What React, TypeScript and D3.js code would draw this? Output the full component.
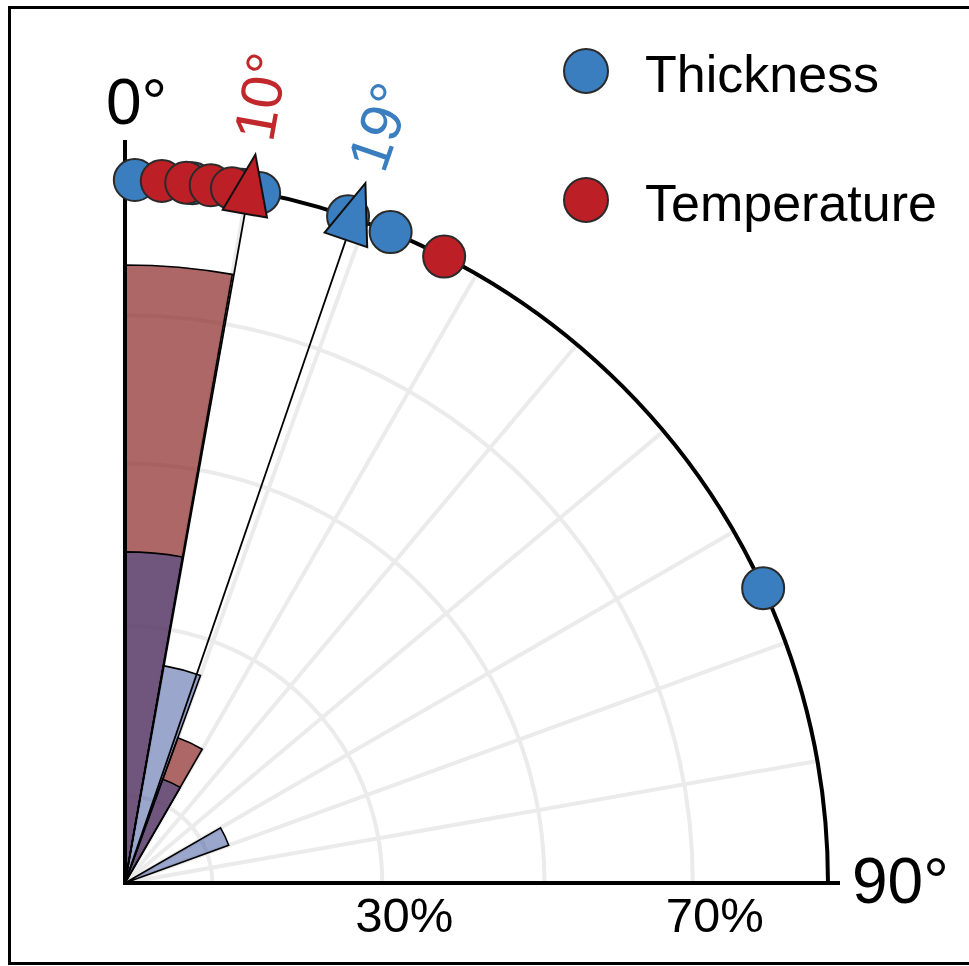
import React from "react";
import * as d3 from "d3";

// ---- data ----
const thicknessAngles = [0.8, 5.5, 9.5, 11, 18.5, 22.2, 65.2];
const temperatureAngles = [3, 5, 7, 8.75, 27];
const seriesNames = ["Thickness", "Temperature"];
const seriesColors = ["#3a7ebf", "#bd1f26"];
const gridArcValues = [11.3, 33.3, 54.3, 73.5];
const gridArcLabels = ["", "30%", "", "70%"];
const angleGridValues = [10, 20, 30, 40, 50, 60, 70, 80];
const angleEndLabels = ["0°", "90°"];
const binEdges = [0, 10, 20, 30, 40, 50, 60, 70, 80, 90];

// ---- layout ----
const W = 969;
const H = 966;
const cx = 125;
const cy = 883;
const R = 703;
const FONT = "'Liberation Sans', Arial, Helvetica, sans-serif";

const rScale = d3.scaleLinear().domain([0, 91]).range([0, R]);
const rad = (deg: number) => (deg * Math.PI) / 180;
const pol = (deg: number, r: number): [number, number] => [
  cx + r * Math.sin(rad(deg)),
  cy - r * Math.cos(rad(deg)),
];

function histogram(values: number[]) {
  const bins = d3
    .bin<number, number>()
    .domain([0, 90])
    .thresholds(binEdges.slice(1, -1))(values);
  return bins
    .filter((b) => b.length > 0)
    .map((b) => ({ x0: b.x0 as number, x1: b.x1 as number, pct: (b.length / values.length) * 100 }));
}

const arcGen = d3.arc<any>();

export default function App() {
  const thickBins = histogram(thicknessAngles);
  const tempBins = histogram(temperatureAngles);
  const thickMean = d3.mean(thicknessAngles) as number;
  const tempMean = d3.mean(temperatureAngles) as number;

  const wedge = (b: { x0: number; x1: number; pct: number }) =>
    arcGen({
      innerRadius: 0,
      outerRadius: rScale(b.pct),
      startAngle: rad(b.x0),
      endAngle: rad(b.x1),
    }) as string;

  const outerArc = arcGen({
    innerRadius: R,
    outerRadius: R,
    startAngle: 0,
    endAngle: Math.PI / 2,
  }) as string;

  const means = [
    { name: "Thickness", angle: thickMean, color: seriesColors[0] },
    { name: "Temperature", angle: tempMean, color: "#c0282c" },
  ];

  const tri = "M0,-30 L22.5,30 L-22.5,30 Z";

  return (
    <svg
      width={W}
      height={H}
      style={{ position: "absolute", left: 0, top: 0, background: "#fff" }}
      fontFamily={FONT}
    >
      <rect x={0} y={0} width={W} height={H} fill="#fff" />
      {/* grid */}
      <g stroke="#ebebeb" strokeWidth={4} fill="none">
        {gridArcValues.map((v, i) => (
          <path
            key={"ga" + i}
            transform={`translate(${cx},${cy})`}
            d={
              arcGen({
                innerRadius: rScale(v),
                outerRadius: rScale(v),
                startAngle: 0,
                endAngle: Math.PI / 2,
              }) as string
            }
          />
        ))}
        {angleGridValues.map((a) => {
          const [x, y] = pol(a, R);
          return <line key={"gl" + a} x1={cx} y1={cy} x2={x} y2={y} />;
        })}
      </g>

      {/* rose wedges */}
      <g transform={`translate(${cx},${cy})`}>
        {tempBins.map((b, i) => (
          <path
            key={"tw" + i}
            d={wedge(b)}
            fill="#8a2627"
            fillOpacity={0.7}
            stroke="#000"
            strokeWidth={1.6}
          />
        ))}
        {thickBins.map((b, i) => (
          <path
            key={"kw" + i}
            d={wedge(b)}
            fill="#2d4695"
            fillOpacity={0.48}
            stroke="#000"
            strokeWidth={1.6}
          />
        ))}
      </g>

      {/* axes */}
      <path transform={`translate(${cx},${cy})`} d={outerArc} fill="none" stroke="#000" strokeWidth={4} />
      <line x1={cx} y1={cy} x2={cx} y2={140} stroke="#000" strokeWidth={4} />
      <line x1={cx - 2} y1={cy} x2={840} y2={cy} stroke="#000" strokeWidth={4} />

      {/* mean direction lines */}
      {means.map((m) => {
        const [x, y] = pol(m.angle, R - 23);
        return <line key={"ml" + m.name} x1={cx} y1={cy} x2={x} y2={y} stroke="#000" strokeWidth={1.8} />;
      })}

      {/* points */}
      {thicknessAngles.map((a, i) => {
        const [x, y] = pol(a, R);
        return <circle key={"kp" + i} cx={x} cy={y} r={21} fill={seriesColors[0]} stroke="#2a2a2a" strokeWidth={2} />;
      })}
      {temperatureAngles.map((a, i) => {
        const [x, y] = pol(a, R);
        return <circle key={"tp" + i} cx={x} cy={y} r={21} fill={seriesColors[1]} stroke="#2a2a2a" strokeWidth={2} />;
      })}

      {/* mean triangles */}
      {[means[1], means[0]].map((m) => {
        const [x, y] = pol(m.angle, R + 7);
        return (
          <path
            key={"tr" + m.name}
            d={tri}
            transform={`translate(${x},${y}) rotate(${m.angle})`}
            fill={m.name === "Thickness" ? seriesColors[0] : seriesColors[1]}
            stroke="#111"
            strokeWidth={2}
          />
        );
      })}

      {/* mean labels */}
      {means.map((m) => {
        const [x, y] = pol(m.angle, 798);
        return (
          <text
            key={"mt" + m.name}
            x={0}
            y={0}
            dy="0.26em"
            transform={`translate(${x},${y}) rotate(${m.angle - 90})`}
            textAnchor="middle"
            fontSize={58}
            fill={m.color}
          >
            {Math.round(m.angle) + "°"}
          </text>
        );
      })}

      {/* angle labels */}
      <text x={106} y={124} fontSize={64} fill="#000">
        {angleEndLabels[0]}
      </text>
      <text x={852} y={903} fontSize={64} fill="#000">
        {angleEndLabels[1]}
      </text>

      {/* radial labels */}
      {gridArcValues.map((v, i) =>
        gridArcLabels[i] ? (
          <text key={"rl" + i} x={cx + rScale(v) + 22} y={932} fontSize={49} textAnchor="middle" fill="#000">
            {gridArcLabels[i]}
          </text>
        ) : null
      )}

      {/* legend */}
      {seriesNames.map((n, i) => (
        <g key={"lg" + n} transform={`translate(586,${71 + i * 129})`}>
          <circle r={22} fill={seriesColors[i]} stroke="#2a2a2a" strokeWidth={2} />
          <text x={59} y={21} fontSize={52} fill="#000">
            {n}
          </text>
        </g>
      ))}

      {/* frame */}
      <rect x={9.5} y={7.5} width={975} height={956} fill="none" stroke="#000" strokeWidth={3} />
    </svg>
  );
}
